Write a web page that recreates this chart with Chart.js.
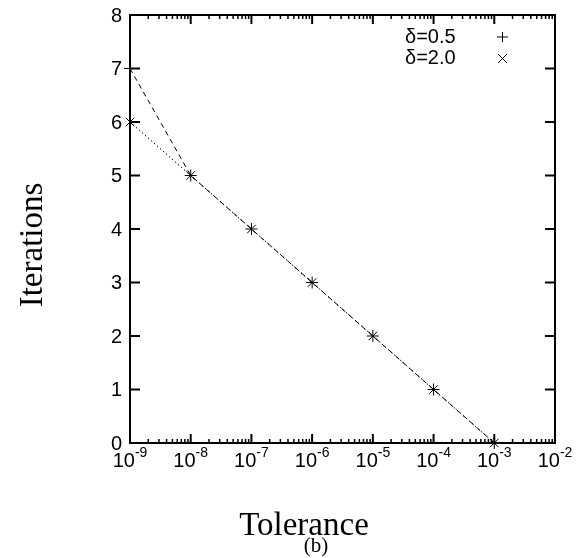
<!DOCTYPE html>
<html>
<head>
<meta charset="UTF-8">
<style>
  html, body { margin: 0; padding: 0; background: #fff; }
  .wrap { width: 577px; height: 558px; position: relative; }
</style>
</head>
<body>
<div class="wrap"><canvas id="chart" width="577" height="558"></canvas></div>
<script src="https://cdn.jsdelivr.net/npm/chart.js@4.4.1/dist/chart.umd.min.js"></script>
<script>
  // data
  const TOLERANCES = [1e-9, 1e-8, 1e-7, 1e-6, 1e-5, 1e-4, 1e-3];
  const ITER_D05 = [7, 5, 4, 3, 2, 1, 0];
  const ITER_D20 = [6, 5, 4, 3, 2, 1, 0];
  const X_EXPONENTS = [-9, -8, -7, -6, -5, -4, -3, -2];
  const Y_TICKS = [0, 1, 2, 3, 4, 5, 6, 7, 8];
  const LEGEND = ['δ=0.5', 'δ=2.0'];

  const AREA = { left: 130, right: 555, top: 15, bottom: 443 };
  const SANS = '"Liberation Sans", Arial, sans-serif';
  const SERIF = '"Liberation Serif", "Times New Roman", serif';

  const toPoints = (ys) => TOLERANCES.map((x, i) => ({ x, y: ys[i] }));

  // frame, inward ticks, tick labels, titles, legend
  const gnuplotLook = {
    id: 'gnuplotLook',
    afterDraw(chart) {
      const ctx = chart.ctx;
      const xs = chart.scales.x, ys = chart.scales.y;
      const a = chart.chartArea;
      ctx.save();
      ctx.strokeStyle = '#000';
      ctx.fillStyle = '#000';
      ctx.lineWidth = 2;
      ctx.strokeRect(a.left, a.top, a.right - a.left, a.bottom - a.top);

      ctx.beginPath();
      for (const v of Y_TICKS) {
        const p = ys.getPixelForValue(v);
        ctx.moveTo(a.left, p); ctx.lineTo(a.left + 10, p);
        ctx.moveTo(a.right, p); ctx.lineTo(a.right - 10, p);
      }
      for (const e of X_EXPONENTS) {
        const p = xs.getPixelForValue(Math.pow(10, e));
        ctx.moveTo(p, a.bottom); ctx.lineTo(p, a.bottom - 9);
        ctx.moveTo(p, a.top); ctx.lineTo(p, a.top + 9);
      }
      ctx.stroke();

      // minor ticks, lighter
      ctx.lineWidth = 1.5;
      ctx.beginPath();
      for (const e of X_EXPONENTS) {
        if (e === -2) continue;
        for (let m = 2; m <= 9; m++) {
          const q = xs.getPixelForValue(m * Math.pow(10, e));
          ctx.moveTo(q, a.bottom); ctx.lineTo(q, a.bottom - 4);
          ctx.moveTo(q, a.top); ctx.lineTo(q, a.top + 4);
        }
      }
      ctx.stroke();

      // y tick labels
      ctx.font = '20px ' + SANS;
      ctx.textAlign = 'right';
      ctx.textBaseline = 'middle';
      for (const v of Y_TICKS) {
        ctx.fillText(String(v), a.left - 8, ys.getPixelForValue(v) + 1);
      }

      // x tick labels with superscript exponent
      ctx.textBaseline = 'alphabetic';
      ctx.textAlign = 'left';
      for (const e of X_EXPONENTS) {
        const p = xs.getPixelForValue(Math.pow(10, e));
        ctx.font = '20px ' + SANS;
        const wb = ctx.measureText('10').width;
        ctx.font = '14px ' + SANS;
        const sup = String(e);
        const we = ctx.measureText(sup).width;
        const x0 = p - (wb + we) / 2;
        ctx.font = '20px ' + SANS;
        ctx.fillText('10', x0, a.bottom + 24);
        ctx.font = '14px ' + SANS;
        ctx.fillText(sup, x0 + wb, a.bottom + 14);
      }

      // axis titles
      ctx.font = '33px ' + SERIF;
      ctx.textAlign = 'center';
      ctx.textBaseline = 'middle';
      ctx.fillText('Tolerance', 304, 526);
      ctx.save();
      ctx.translate(33, 245);
      ctx.rotate(-Math.PI / 2);
      ctx.fillText('Iterations', 0, 0);
      ctx.restore();
      ctx.font = '21px ' + SERIF;
      ctx.fillText('(b)', 316, 546);

      // legend
      ctx.font = '20px ' + SANS;
      ctx.textAlign = 'left';
      LEGEND.forEach((t, i) => {
        ctx.fillText(t, 405, 37 + i * 21);
      });
      ctx.lineWidth = 1;
      ctx.beginPath();
      ctx.moveTo(497, 37); ctx.lineTo(508, 37);
      ctx.moveTo(502.5, 32); ctx.lineTo(502.5, 42);
      ctx.moveTo(498, 54); ctx.lineTo(507, 63);
      ctx.moveTo(507, 54); ctx.lineTo(498, 63);
      ctx.stroke();
      ctx.restore();
    }
  };

  new Chart(document.getElementById('chart'), {
    type: 'line',
    data: {
      datasets: [
        {
          label: LEGEND[0],
          data: toPoints(ITER_D05),
          borderColor: '#000',
          borderWidth: 1,
          borderDash: [5, 4],
          pointStyle: 'cross',
          pointRadius: 6,
          pointBorderWidth: 1,
          pointBorderColor: '#000',
          fill: false,
          tension: 0
        },
        {
          label: LEGEND[1],
          data: toPoints(ITER_D20),
          borderColor: '#000',
          borderWidth: 1,
          borderDash: [1.5, 2.5],
          pointStyle: 'crossRot',
          pointRadius: 6,
          pointBorderWidth: 1,
          pointBorderColor: '#000',
          fill: false,
          tension: 0
        }
      ]
    },
    plugins: [gnuplotLook],
    options: {
      responsive: false,
      animation: false,
      clip: false,
      layout: { padding: { top: AREA.top, right: 577 - AREA.right, left: 0, bottom: 0 } },
      plugins: { legend: { display: false }, tooltip: { enabled: false } },
      scales: {
        x: {
          type: 'logarithmic',
          min: 1e-9,
          max: 1e-2,
          grid: { display: false },
          border: { display: false },
          ticks: { display: false },
          afterFit(s) { s.height = 558 - AREA.bottom; }
        },
        y: {
          min: 0,
          max: 8,
          grid: { display: false },
          border: { display: false },
          ticks: { display: false },
          afterFit(s) { s.width = AREA.left; }
        }
      }
    }
  });
</script>
</body>
</html>
